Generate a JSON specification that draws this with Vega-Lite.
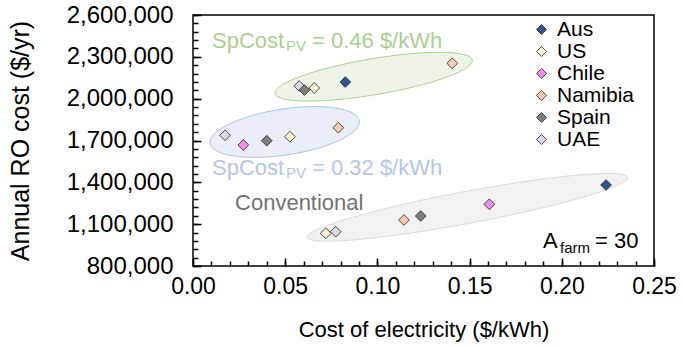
{
  "$schema": "https://vega.github.io/schema/vega-lite/v6.json",
  "width": 461,
  "height": 251,
  "autosize": {"type": "none"},
  "padding": {"left": 193, "top": 15, "right": 29, "bottom": 80},
  "config": {
    "font": "Liberation Sans",
    "view": {"stroke": "black", "strokeWidth": 1.5},
    "axis": {"grid": false, "domain": false, "zindex": 1, "ticks": true, "tickColor": "black", "tickWidth": 1.5, "labelColor": "black", "titleColor": "black", "titleFontWeight": "normal", "labelFlush": false, "labelOverlap": false}
  },
  "datasets": {
    "points": [
      {"country": "UAE", "scenario": "SpCost_PV 0.46", "cost": 0.0576, "ro": 2091000},
      {"country": "Spain", "scenario": "SpCost_PV 0.46", "cost": 0.0604, "ro": 2062000},
      {"country": "US", "scenario": "SpCost_PV 0.46", "cost": 0.0658, "ro": 2076500},
      {"country": "Aus", "scenario": "SpCost_PV 0.46", "cost": 0.0826, "ro": 2119500},
      {"country": "Namibia", "scenario": "SpCost_PV 0.46", "cost": 0.1406, "ro": 2253600},
      {"country": "UAE", "scenario": "SpCost_PV 0.32", "cost": 0.0174, "ro": 1737300},
      {"country": "Chile", "scenario": "SpCost_PV 0.32", "cost": 0.0273, "ro": 1667700},
      {"country": "Spain", "scenario": "SpCost_PV 0.32", "cost": 0.04, "ro": 1698600},
      {"country": "US", "scenario": "SpCost_PV 0.32", "cost": 0.0526, "ro": 1727300},
      {"country": "Namibia", "scenario": "SpCost_PV 0.32", "cost": 0.0788, "ro": 1791800},
      {"country": "Aus", "scenario": "Conventional", "cost": 0.224, "ro": 1380900},
      {"country": "US", "scenario": "Conventional", "cost": 0.072, "ro": 1034500},
      {"country": "Chile", "scenario": "Conventional", "cost": 0.1607, "ro": 1242500},
      {"country": "Namibia", "scenario": "Conventional", "cost": 0.1144, "ro": 1129900},
      {"country": "Spain", "scenario": "Conventional", "cost": 0.1235, "ro": 1158600},
      {"country": "UAE", "scenario": "Conventional", "cost": 0.0774, "ro": 1046000}
    ],
    "ellipses": [
      {"scenario": "SpCost_PV 0.46", "cost": 0.098, "ro": 2157500},
      {"scenario": "SpCost_PV 0.32", "cost": 0.0497, "ro": 1761000},
      {"scenario": "Conventional", "cost": 0.149, "ro": 1221000}
    ],
    "labels": [
      {"id": "g_main", "text": "SpCost", "cost": 0.0103, "ro": 2363300},
      {"id": "g_sub", "text": "PV", "cost": 0.0103, "ro": 2363300},
      {"id": "g_rest", "text": "= 0.46 $/kWh", "cost": 0.0103, "ro": 2363300},
      {"id": "b_main", "text": "SpCost", "cost": 0.0103, "ro": 1452600},
      {"id": "b_sub", "text": "PV", "cost": 0.0103, "ro": 1452600},
      {"id": "b_rest", "text": "= 0.32 $/kWh", "cost": 0.0103, "ro": 1452600},
      {"id": "conv", "text": "Conventional", "cost": 0.0228, "ro": 1201600},
      {"id": "a_main", "text": "A", "cost": 0.1898, "ro": 929100},
      {"id": "a_sub", "text": "farm", "cost": 0.1898, "ro": 929100},
      {"id": "a_rest", "text": "= 30", "cost": 0.1898, "ro": 929100}
    ]
  },
  "encoding": {
    "x": {"field": "cost", "type": "quantitative", "scale": {"domain": [0, 0.25], "nice": false, "zero": false}, "axis": null},
    "y": {"field": "ro", "type": "quantitative", "scale": {"domain": [800000, 2600000], "nice": false, "zero": false}, "axis": null}
  },
  "layer": [
    {
      "data": {"name": "ellipses"},
      "transform": [{"filter": "datum.scenario === 'Conventional'"}],
      "mark": {"type": "point", "filled": true, "size": 40000, "fill": "#f2f2f2", "stroke": "#d9d9d9", "strokeWidth": 1, "opacity": 1,
        "shape": "M1.6022,-0.2998C1.6185,-0.2129,0.9143,-0.0083,0.0294,0.1573C-0.8555,0.3229,-1.5859,0.3867,-1.6022,0.2998C-1.6185,0.2129,-0.9143,0.0083,-0.0294,-0.1573C0.8555,-0.3229,1.5859,-0.3867,1.6022,-0.2998Z"},
      "encoding": {
        "x": {"field": "cost", "type": "quantitative", "scale": {"domain": [0, 0.25], "nice": false, "zero": false},
          "axis": {"orient": "bottom", "values": [0,0.01,0.02,0.03,0.04,0.05,0.06,0.07,0.08,0.09,0.1,0.11,0.12,0.13,0.14,0.15,0.16,0.17,0.18,0.19,0.2,0.21,0.22,0.23,0.24,0.25], "labels": false, "tickSize": 5, "offset": -5, "title": null}},
        "y": {"field": "ro", "type": "quantitative", "scale": {"domain": [800000, 2600000], "nice": false, "zero": false},
          "axis": {"orient": "left", "values": [800000,860000,920000,980000,1040000,1100000,1160000,1220000,1280000,1340000,1400000,1460000,1520000,1580000,1640000,1700000,1760000,1820000,1880000,1940000,2000000,2060000,2120000,2180000,2240000,2300000,2360000,2420000,2480000,2540000,2600000], "labels": false, "tickSize": 5, "offset": -5, "title": null}}
      }
    },
    {
      "data": {"name": "ellipses"},
      "transform": [{"filter": "datum.scenario === 'SpCost_PV 0.32'"}],
      "mark": {"type": "point", "filled": true, "size": 40000, "fill": "#e9eef8", "stroke": "#aec3e6", "strokeWidth": 1, "opacity": 1,
        "shape": "M0.7465,-0.1129C0.7655,0.0127,0.4467,0.165,0.0344,0.2274C-0.3779,0.2898,-0.7275,0.2385,-0.7465,0.1129C-0.7655,-0.0127,-0.4467,-0.165,-0.0344,-0.2274C0.3779,-0.2898,0.7275,-0.2385,0.7465,-0.1129Z"}
    },
    {
      "data": {"name": "ellipses"},
      "transform": [{"filter": "datum.scenario === 'SpCost_PV 0.46'"}],
      "mark": {"type": "point", "filled": true, "size": 40000, "fill": "#eef5e8", "stroke": "#a9d18e", "strokeWidth": 1, "opacity": 1,
        "shape": "M0.986,-0.1668C1.0026,-0.0688,0.5746,0.0854,0.03,0.1775C-0.5146,0.2696,-0.9694,0.2648,-0.986,0.1668C-1.0026,0.0688,-0.5746,-0.0854,-0.03,-0.1775C0.5146,-0.2696,0.9694,-0.2648,0.986,-0.1668Z"}
    },
    {
      "data": {"name": "labels"},
      "transform": [{"filter": "datum.id === 'g_main'"}],
      "mark": {"type": "text", "align": "left", "baseline": "alphabetic", "fontSize": 22, "color": "#a9d18e"},
      "encoding": {"text": {"field": "text"}}
    },
    {
      "data": {"name": "labels"},
      "transform": [{"filter": "datum.id === 'g_sub'"}],
      "mark": {"type": "text", "align": "left", "baseline": "alphabetic", "fontSize": 15, "dx": 74, "dy": 3, "color": "#a9d18e"},
      "encoding": {"text": {"field": "text"}}
    },
    {
      "data": {"name": "labels"},
      "transform": [{"filter": "datum.id === 'g_rest'"}],
      "mark": {"type": "text", "align": "left", "baseline": "alphabetic", "fontSize": 22, "dx": 100, "color": "#a9d18e"},
      "encoding": {"text": {"field": "text"}}
    },
    {
      "data": {"name": "labels"},
      "transform": [{"filter": "datum.id === 'b_main'"}],
      "mark": {"type": "text", "align": "left", "baseline": "alphabetic", "fontSize": 22, "color": "#b1c6e8"},
      "encoding": {"text": {"field": "text"}}
    },
    {
      "data": {"name": "labels"},
      "transform": [{"filter": "datum.id === 'b_sub'"}],
      "mark": {"type": "text", "align": "left", "baseline": "alphabetic", "fontSize": 15, "dx": 74, "dy": 3, "color": "#b1c6e8"},
      "encoding": {"text": {"field": "text"}}
    },
    {
      "data": {"name": "labels"},
      "transform": [{"filter": "datum.id === 'b_rest'"}],
      "mark": {"type": "text", "align": "left", "baseline": "alphabetic", "fontSize": 22, "dx": 100, "color": "#b1c6e8"},
      "encoding": {"text": {"field": "text"}}
    },
    {
      "data": {"name": "labels"},
      "transform": [{"filter": "datum.id === 'conv'"}],
      "mark": {"type": "text", "align": "left", "baseline": "alphabetic", "fontSize": 22, "color": "#757171"},
      "encoding": {"text": {"field": "text"}}
    },
    {
      "data": {"name": "labels"},
      "transform": [{"filter": "datum.id === 'a_main'"}],
      "mark": {"type": "text", "align": "left", "baseline": "alphabetic", "fontSize": 22, "color": "black"},
      "encoding": {"text": {"field": "text"}}
    },
    {
      "data": {"name": "labels"},
      "transform": [{"filter": "datum.id === 'a_sub'"}],
      "mark": {"type": "text", "align": "left", "baseline": "alphabetic", "fontSize": 15, "dx": 17, "dy": 5, "color": "black"},
      "encoding": {"text": {"field": "text"}}
    },
    {
      "data": {"name": "labels"},
      "transform": [{"filter": "datum.id === 'a_rest'"}],
      "mark": {"type": "text", "align": "left", "baseline": "alphabetic", "fontSize": 22, "dx": 52, "color": "black"},
      "encoding": {"text": {"field": "text"}}
    },
    {
      "data": {"name": "points"},
      "mark": {"type": "point", "shape": "diamond", "filled": true, "size": 115, "stroke": "#222222", "strokeWidth": 0.8, "opacity": 1},
      "encoding": {
        "x": {"field": "cost", "type": "quantitative", "scale": {"domain": [0, 0.25], "nice": false, "zero": false},
          "axis": {"orient": "bottom", "values": [0, 0.05, 0.1, 0.15, 0.2, 0.25], "format": ".2f", "tickSize": 8, "offset": -8, "labelFontSize": 23, "labelPadding": 9,
            "title": "Cost of electricity ($/kWh)", "titleFontSize": 22, "titleX": 230.5, "titleY": 78, "titleBaseline": "alphabetic"}},
        "y": {"field": "ro", "type": "quantitative", "scale": {"domain": [800000, 2600000], "nice": false, "zero": false},
          "axis": {"orient": "left", "values": [800000, 1100000, 1400000, 1700000, 2000000, 2300000, 2600000], "format": ",d", "tickSize": 8, "offset": -8, "labelFontSize": 24, "labelPadding": 20,
            "title": "Annual RO cost ($/yr)", "titleFontSize": 25, "titleX": -168, "titleY": 125.5, "titleBaseline": "bottom"}},
        "color": {"field": "country", "type": "nominal",
          "scale": {"domain": ["Aus", "US", "Chile", "Namibia", "Spain", "UAE"], "range": ["#2f5597", "#fff2cc", "#f08cf0", "#f8cbad", "#7f7f7f", "#d6dce5"]},
          "legend": {"title": null, "orient": "none", "legendX": 338, "legendY": 4, "padding": 0, "labelFontSize": 21, "labelColor": "black", "symbolType": "diamond", "symbolSize": 100, "symbolStrokeColor": "#222222", "symbolStrokeWidth": 0.8, "symbolOpacity": 1, "rowPadding": 0, "labelOffset": 5}}
      }
    }
  ],
  "resolve": {"axis": {"x": "independent", "y": "independent"}}
}
